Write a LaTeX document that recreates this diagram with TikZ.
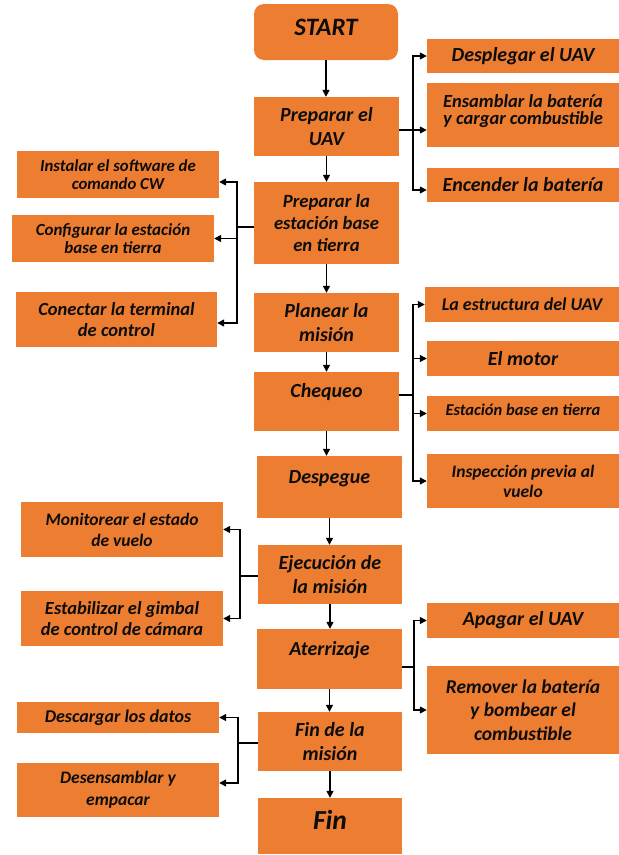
\documentclass[tikz,border=0pt]{standalone}
\usepackage{fontspec}
\setmainfont{Carlito}
\usetikzlibrary{arrows.meta,calc}
\definecolor{myorange}{HTML}{ED7D31}
\newcommand{\liftxt}[2]{\raisebox{#1}[\height][\depth]{#2}}
\begin{document}
\begin{tikzpicture}[x=1pt,y=-1pt,
  box/.style={fill=myorange, inner sep=0pt, align=center, text=black!95},
  fs/.style 2 args={font=\bfseries\itshape\fontsize{#1}{#2}\selectfont},
  cbox/.style={box, fs={20}{24}, minimum width=145pt, minimum height=59pt},
  rbox/.style={box, minimum width=192pt},
  lbox/.style={box, minimum width=202pt},
  arr/.style={line width=1.4pt, -{Triangle[length=7pt,width=7pt]}},
  ln/.style={line width=1.4pt}]
\useasboundingbox (0,0) rectangle (619,855);

% centre column
\node[box, fs={25}{29}, minimum width=144pt, minimum height=56pt, rounded corners=10pt] (start) at (326,32) {\liftxt{4.5pt}{START}};
\node[cbox] (prep) at (326.5,126.5) {Preparar el\\UAV};
\node[cbox, fs={18.7}{22}, minimum height=82pt] (prepb) at (326.5,223) {Preparar la\\estación base\\en tierra};
\node[cbox] (plan) at (326.5,322.5) {Planear la\\misión};
\node[cbox] (cheq) at (326.5,401.5) {\liftxt{9pt}{Chequeo}};
\node[cbox, minimum height=62pt] (desp) at (329.5,487) {\liftxt{8pt}{Despegue}};
\node[cbox, minimum width=144pt] (ejec) at (330,574.5) {Ejecución de\\la misión};
\node[cbox, minimum height=60pt] (ater) at (329.5,659) {\liftxt{9pt}{Aterrizaje}};
\node[cbox, minimum width=144pt] (finm) at (330,741.5) {Fin de la\\misión};
\node[box, fs={27.5}{32}, minimum width=144pt, minimum height=56pt] (fin) at (330,826) {\liftxt{6pt}{Fin}};

% right boxes
\node[rbox, fs={20}{24}, minimum height=34pt] (r1) at (523,56) {Desplegar el UAV};
\node[rbox, fs={18.5}{22}, minimum height=64pt] (r2) at (523,115) {\liftxt{4pt}{\shortstack{Ensamblar la batería\\[1pt]y cargar combustible}}};
\node[rbox, fs={20}{24}, minimum height=34pt] (r3) at (523,185) {Encender la batería};
\node[rbox, fs={18}{22}, minimum width=194pt, minimum height=35pt] (r4) at (522,304.5) {La estructura del UAV};
\node[rbox, fs={20}{24}, minimum height=35pt] (r5) at (523,358.5) {El motor};
\node[rbox, fs={16.5}{20}, minimum height=35pt] (r6) at (523,413.5) {\liftxt{4pt}{Estación base en tierra}};
\node[rbox, fs={17.5}{20}, minimum height=54pt] (r7) at (523,481) {Inspección previa al\\vuelo};
\node[rbox, fs={20}{24}, minimum height=35pt] (r8) at (523,620.5) {Apagar el UAV};
\node[rbox, fs={19.5}{23.5}, minimum height=88pt] (r9) at (523,710) {Remover la batería\\y bombear el\\combustible};

% left boxes
\node[lbox, fs={16.8}{18}, minimum height=47pt] (l1) at (118,174.5) {Instalar el software de\\comando CW};
\node[lbox, fs={17}{17.5}, minimum height=47pt] (l2) at (113,238.5) {Configurar la estación\\base en tierra};
\node[lbox, fs={18.5}{21}, minimum width=201pt, minimum height=55pt] (l3) at (116.5,319.5) {Conectar la terminal\\de control};
\node[lbox, fs={17.5}{21}, minimum height=55pt] (l4) at (122,529.5) {Monitorear el estado\\de vuelo};
\node[lbox, fs={18.5}{21}, minimum height=55pt] (l5) at (122,618.5) {Estabilizar el gimbal\\de control de cámara};
\node[lbox, fs={18}{22}, minimum height=31pt] (l6) at (118,717.5) {Descargar los datos};
\node[lbox, fs={17.5}{22}, minimum height=54pt] (l7) at (118,790) {Desensamblar y\\empacar};

% main flow
\foreach \a/\b in {start/prep, prep/prepb, prepb/plan, plan/cheq, cheq/desp, desp/ejec, ejec/ater, ater/finm, finm/fin}
  \draw[arr] (\a.south) -- (\a.south |- \b.north);

% group 1
\coordinate (j1) at (413,130);
\draw[ln] (prep.east |- j1) -- (j1);
\draw[arr] (j1) |- (r1.west);
\draw[arr] (j1) -- (r2.west |- j1);
\draw[arr] (j1) |- ([yshift=-5pt]r3.west);

% group 2
\coordinate (j2) at (237,227);
\draw[ln] (prepb.west |- j2) -- (j2);
\draw[arr] (j2) |- ([yshift=-7.5pt]l1.east);
\draw[arr] (j2) |- (l2.east);
\draw[arr] (j2) |- ([yshift=-3.5pt]l3.east);

% group 3
\coordinate (j3) at (413,395);
\draw[ln] (cheq.east |- j3) -- (j3);
\draw[arr] (j3) |- (r4.west);
\draw[arr] (j3) |- (r5.west);
\draw[arr] (j3) |- (r6.west);
\draw[arr] (j3) |- (r7.west);

% group 4
\coordinate (j4) at (240,576);
\draw[ln] (ejec.west |- j4) -- (j4);
\draw[arr] (j4) |- (l4.east);
\draw[arr] (j4) |- (l5.east);

% group 5
\coordinate (j5) at (414,667);
\draw[ln] (ater.east |- j5) -- (j5);
\draw[arr] (j5) |- (r8.west);
\draw[arr] (j5) |- (r9.west);

% group 6
\coordinate (j6) at (238,743);
\draw[ln] (finm.west |- j6) -- (j6);
\draw[arr] (j6) |- (l6.east);
\draw[arr] (j6) |- ([yshift=7pt]l7.east);
\end{tikzpicture}
\end{document}
